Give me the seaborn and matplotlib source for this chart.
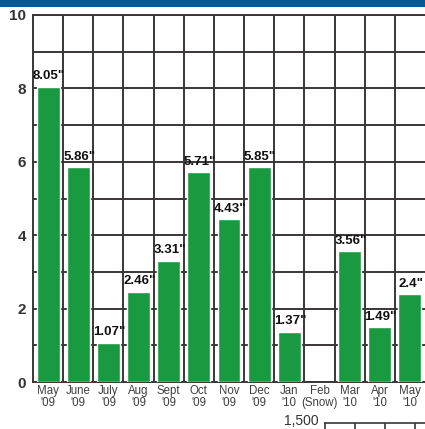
import numpy as np
import pandas as pd
import matplotlib
matplotlib.use('Agg')
import matplotlib.pyplot as plt
from matplotlib.patches import Rectangle
from matplotlib.ticker import MultipleLocator, FixedLocator
import seaborn as sns

# ── data
months = ['May', 'June', 'July', 'Aug', 'Sept', 'Oct', 'Nov', 'Dec',
          'Jan', 'Feb', 'Mar', 'Apr', 'May ']
years = ["'09", "'09", "'09", "'09", "'09", "'09", "'09", "'09",
         "'10", "(Snow)", "'10", "'10", "'10"]
rainfall = [8.05, 5.86, 1.07, 2.46, 3.31, 5.71, 4.43, 5.85,
            1.37, np.nan, 3.56, 1.49, 2.4]
labels = ['8.05"', '5.86"', '1.07"', '2.46"', '3.31"', '5.71"', '4.43"', '5.85"',
          '1.37"', '', '3.56"', '1.49"', '2.4"']

df = pd.DataFrame({'month': months, 'rain': rainfall})

GREEN = '#1a9a40'
GRID = '#3a3636'
BLUE = '#005a97'

sns.set_style('white')
plt.rcParams['font.family'] = ['Liberation Sans', 'DejaVu Sans']

fig = plt.figure(figsize=(4.25, 4.29), dpi=100, facecolor='white')
ax = fig.add_axes([33 / 425, 1 - 382 / 429, 1 - 33 / 425, (382 - 15) / 429])

sns.barplot(data=df.dropna(), x='month', y='rain', order=months, color=GREEN,
            width=0.76, saturation=1, ax=ax, zorder=3)

# value labels
for i, (v, lab) in enumerate(zip(rainfall, labels)):
    if not np.isnan(v):
        ax.text(i + 0.03, v + 0.12, lab, ha='center', va='bottom', fontsize=9.5,
                fontweight='bold', color='#111111', zorder=4)

ax.set_xlim(-0.5, 12.5)
ax.set_ylim(0, 10)
ax.set_xlabel('')
ax.set_ylabel('')

ax.set_xticks(range(len(months)))
ax.set_xticklabels([f'{m.strip()}\n{y}' for m, y in zip(months, years)],
                   fontsize=8.3, color='#3f3f3f', linespacing=1.05)
ax.xaxis.set_minor_locator(FixedLocator(np.arange(0.5, 12, 1)))
ax.tick_params(axis='x', which='major', length=0, pad=2)
ax.tick_params(axis='x', which='minor', length=4, width=1.4, color=GRID, direction='out')

ax.yaxis.set_major_locator(MultipleLocator(2))
ax.yaxis.set_minor_locator(MultipleLocator(1))
ax.tick_params(axis='y', which='both', length=4, width=1.4, color=GRID, direction='out',
               labelsize=11, labelcolor='#333333', pad=1)
for t in ax.get_yticklabels():
    t.set_fontweight('bold')

ax.grid(True, which='minor', axis='x', color=GRID, linewidth=1.4, zorder=1)
ax.grid(True, which='both', axis='y', color=GRID, linewidth=1.4, zorder=1)
ax.set_axisbelow(True)

for side in ['left', 'bottom', 'top']:
    ax.spines[side].set_color(GRID)
    ax.spines[side].set_linewidth(1.4)
ax.spines['right'].set_visible(False)

# blue band along the top
fig.add_artist(Rectangle((0, 1 - 7 / 429), 1, 7 / 429, transform=fig.transFigure,
                         facecolor=BLUE, edgecolor='none'))

# start of the next chart, cut off by the bottom edge
ax2 = fig.add_axes([325 / 425, 1 - 423 / 429 - 0.3, 100 / 425, 0.3])
ax2.set_xlim(0, 100 / 30)
ax2.set_ylim(0, 1500)
ax2.set_yticks([1500])
ax2.set_yticklabels([])
ax2.set_xticks([1, 2, 3])
ax2.set_xticklabels([])
ax2.tick_params(axis='y', length=4, width=1.2, color=GRID)
ax2.tick_params(axis='x', length=0)
ax2.grid(True, axis='x', color=GRID, linewidth=1.2)
for side in ['right', 'bottom']:
    ax2.spines[side].set_visible(False)
for side in ['left', 'top']:
    ax2.spines[side].set_color(GRID)
    ax2.spines[side].set_linewidth(1.2)
fig.text(319 / 425, 1 - 421 / 429, '1,500', ha='right', va='center',
         fontsize=10, color='#333333')

fig.savefig('out.png', dpi=100, facecolor='white')
